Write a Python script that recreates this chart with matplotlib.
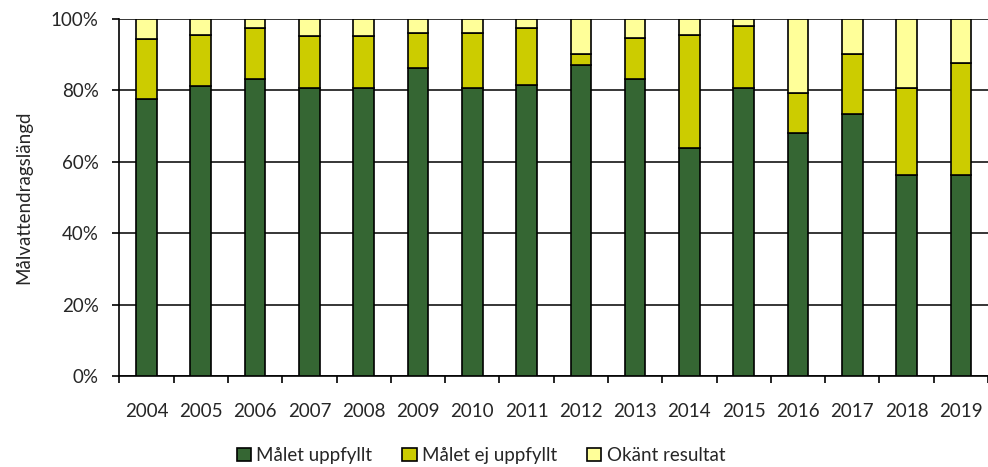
import matplotlib
matplotlib.use("Agg")
import matplotlib.pyplot as plt
from matplotlib.ticker import FixedLocator, PercentFormatter
import numpy as np

years = [str(y) for y in range(2004, 2020)]
uppfyllt = [77.6, 81.1, 83.1, 80.6, 80.6, 86.1, 80.6, 81.5, 87.1, 83.1, 63.8, 80.6, 68.1, 73.3, 56.4, 56.4]
ej_uppfyllt = [16.8, 14.3, 14.2, 14.4, 14.4, 9.8, 15.3, 15.9, 2.9, 11.4, 31.7, 17.4, 11.0, 16.8, 24.2, 31.3]
okant = [round(100 - a - b, 1) for a, b in zip(uppfyllt, ej_uppfyllt)]

labels = ["Målet uppfyllt", "Målet ej uppfyllt", "Okänt resultat"]
colors = ["#356633", "#CCCC00", "#FFFF99"]

plt.rcParams["font.family"] = ["Lato", "DejaVu Sans"]
plt.rcParams["font.weight"] = "normal"
txt = "#262626"
fs = 13.5

fig = plt.figure(figsize=(9.88, 4.67), dpi=100)
ax = fig.add_axes([0.1208, 0.1942, 0.8792, 0.766])

x = np.arange(len(years))
w = 0.38
bottom = np.zeros(len(years))
for vals, col, lab in zip([uppfyllt, ej_uppfyllt, okant], colors, labels):
    ax.bar(x, vals, w, bottom=bottom, color=col, edgecolor="black",
           linewidth=1.2, label=lab, zorder=3)
    bottom += np.array(vals)

ax.set_xlim(-0.5, len(years) - 0.5)
ax.set_ylim(0, 100)
ax.yaxis.set_major_locator(FixedLocator([0, 20, 40, 60, 80, 100]))
ax.yaxis.set_major_formatter(PercentFormatter(decimals=0))
ax.set_xticks(x)
ax.set_xticklabels(years)
ax.xaxis.set_minor_locator(FixedLocator(np.arange(-0.5, len(years), 1.0)))
ax.tick_params(axis="x", which="major", length=0, pad=19, labelsize=fs)
ax.tick_params(axis="x", which="minor", length=5, width=1.2, direction="out")
ax.tick_params(axis="y", length=5, width=1.2, direction="out", labelsize=fs, pad=10)
for lbl in ax.get_xticklabels() + ax.get_yticklabels():
    lbl.set_color(txt)
    lbl.set_fontweight("normal")

ax.yaxis.grid(True, color="black", linewidth=1.1, zorder=0)
ax.set_axisbelow(True)
for s in ["top", "right"]:
    ax.spines[s].set_visible(False)
for s in ["left", "bottom"]:
    ax.spines[s].set_linewidth(1.2)

ax.set_ylabel("Målvattendragslängd", fontsize=fs, color=txt, labelpad=13,
              fontweight="normal")

leg = fig.legend(loc="lower center", bbox_to_anchor=(0.487, -0.03), ncol=3, frameon=False,
                 fontsize=fs, handlelength=0.75, handleheight=0.75, handletextpad=0.3,
                 columnspacing=1.6, labelcolor=txt)
for t in leg.get_texts():
    t.set_fontweight("normal")

fig.savefig("out.png", dpi=100)
